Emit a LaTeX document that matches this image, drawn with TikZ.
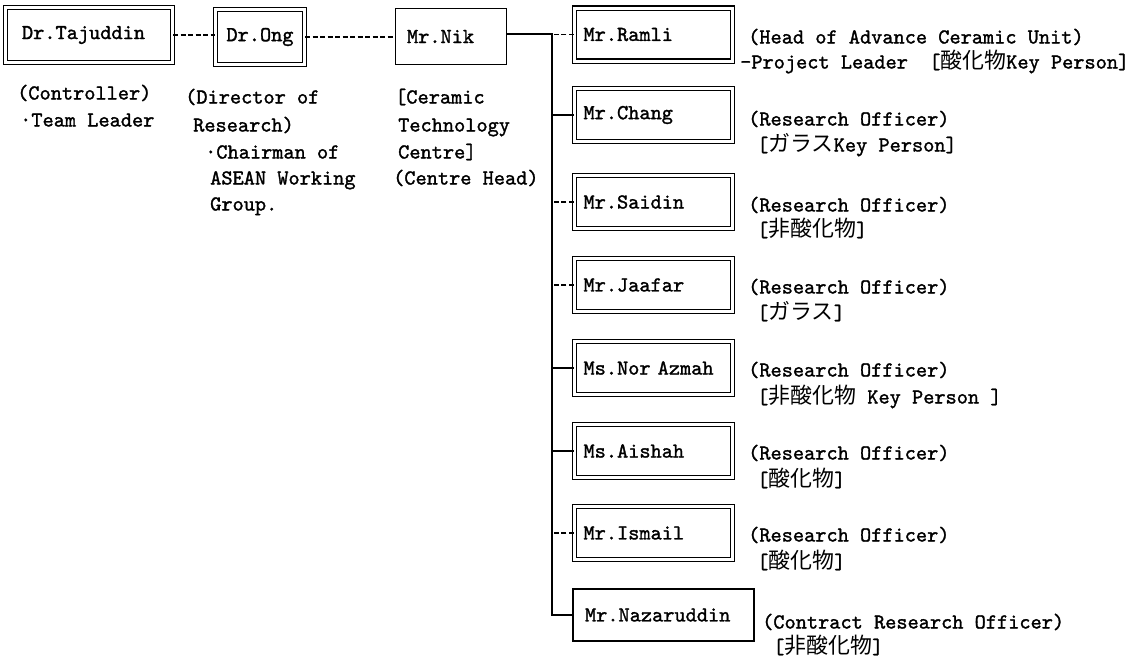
\documentclass[tikz,border=0pt]{standalone}
\usepackage{fontspec}
\setmainfont{lmmono10-regular.otf}[FakeBold=1.4]
\newfontfamily\cjk{Noto Sans CJK JP}[Scale=1.03]
\newcommand{\jpn}[1]{{\cjk #1}}
\newcommand{\myfs}{\fontsize{21.3}{26}\selectfont}
\begin{document}
\begin{tikzpicture}[x=1pt,y=-1pt,
  lbl/.style={anchor=base west, inner sep=0pt, font=\myfs},
  dbl/.style={draw, double, double distance=3pt, line width=1.1pt, inner sep=0pt, font=\myfs, align=left},
  sgl/.style={draw, line width=1.1pt, inner sep=0pt, font=\myfs, align=left},
  child/.style={dbl, minimum width=158pt, minimum height=53pt, text width=140pt},
  link/.style={line width=1.2pt},
  dlink/.style={line width=1.2pt, dash pattern=on 5pt off 2.5pt}]
\useasboundingbox[fill=white] (0,0) rectangle (1144,659);

% top row
\node[dbl, minimum width=167pt, minimum height=55pt, text width=134pt] (taj) at (89,35) {Dr.Tajuddin};
\node[dbl, minimum width=89pt, minimum height=55pt] (ong) at (260,37) {Dr.Ong};
\node[sgl, minimum width=111pt, minimum height=56pt, text width=88pt] (nik) at (451,36.5) {Mr.Nik};

% texts under top row
\node[lbl] (taj1) at (17,99.5) {(Controller)};
\node[lbl] (taj2) at (20,126.5) {·Team Leader};
\node[lbl] (ong1) at (185,103.5) {(Director of};
\node[lbl] (ong2) at (193,131.5) {Research)};
\node[lbl] (ong3) at (205,158.5) {·Chairman of};
\node[lbl] (ong4) at (210,184.5) {ASEAN Working};
\node[lbl] (ong5) at (210,210.5) {Group.};
\node[lbl] (nik1) at (395,103.5) {[Ceramic};
\node[lbl] (nik2) at (398,131.5) {Technology};
\node[lbl] (nik3) at (398,158.5) {Centre]};
\node[lbl] (nik4) at (393,184.5) {(Centre Head)};

% children
\node[child] (ramli) at (653.5,34.5) {Mr.Ramli};
\node[child] (chang) at (653.5,115) {Mr.Chang};
\node[child] (saidin) at (653.5,202) {Mr.Saidin};
\node[child] (jaafar) at (653.5,285) {Mr.Jaafar};
\node[child] (nor) at (653.5,368) {Ms.Nor Azmah};
\node[child] (aishah) at (653.5,451) {Ms.Aishah};
\node[child] (ismail) at (653.5,533) {Mr.Ismail};
\node[sgl, minimum width=181pt, minimum height=52pt, text width=157pt] (naz) at (663.5,615) {Mr.Nazaruddin};

% right texts
\node[lbl] (r1) at (748,43.5) {(Head of Advance Ceramic Unit)};
\node[lbl] (r2) at (740,68.5) {-Project Leader\hspace{1em}[\jpn{酸化物}Key Person]};
\node[lbl] (c1) at (748,125.5) {(Research Officer)};
\node[lbl] (c2) at (757,151.5) {[\jpn{ガラス}Key Person]};
\node[lbl] (s1) at (748,211.5) {(Research Officer)};
\node[lbl] (s2) at (757,236.5) {[\jpn{非酸化物}]};
\node[lbl] (j1) at (748,293.5) {(Research Officer)};
\node[lbl] (j2) at (757,319.5) {[\jpn{ガラス}]};
\node[lbl] (n1) at (748,376.5) {(Research Officer)};
\node[lbl] (n2) at (757,403.5) {[\jpn{非酸化物} Key Person ]};
\node[lbl] (a1) at (748,459.5) {(Research Officer)};
\node[lbl] (a2) at (757,486.5) {[\jpn{酸化物}]};
\node[lbl] (i1) at (748,541.5) {(Research Officer)};
\node[lbl] (i2) at (757,568.5) {[\jpn{酸化物}]};
\node[lbl] (z1) at (762,628.5) {(Contract Research Officer)};
\node[lbl] (z2) at (773,653.5) {[\jpn{非酸化物}]};

% connectors
\coordinate (ttop) at (552,34);
\coordinate (tbot) at (552,615);
\draw[dlink] (taj.east) -- (ong.west |- taj.east);
\draw[dlink] (ong.east) -- (nik.west |- ong.east);
\draw[link] (nik.east |- ttop) -- (ttop) -- (tbot) -- (naz.west);
\draw[dlink] (ramli.west) -- (ramli.west -| ttop);
\draw[link] (chang.west) -- (chang.west -| ttop);
\draw[dlink] (saidin.west) -- (saidin.west -| ttop);
\draw[dlink] (jaafar.west) -- (jaafar.west -| ttop);
\draw[link] (nor.west) -- (nor.west -| ttop);
\draw[link] (aishah.west) -- (aishah.west -| ttop);
\draw[dlink] (ismail.west) -- (ismail.west -| ttop);
\end{tikzpicture}
\end{document}
